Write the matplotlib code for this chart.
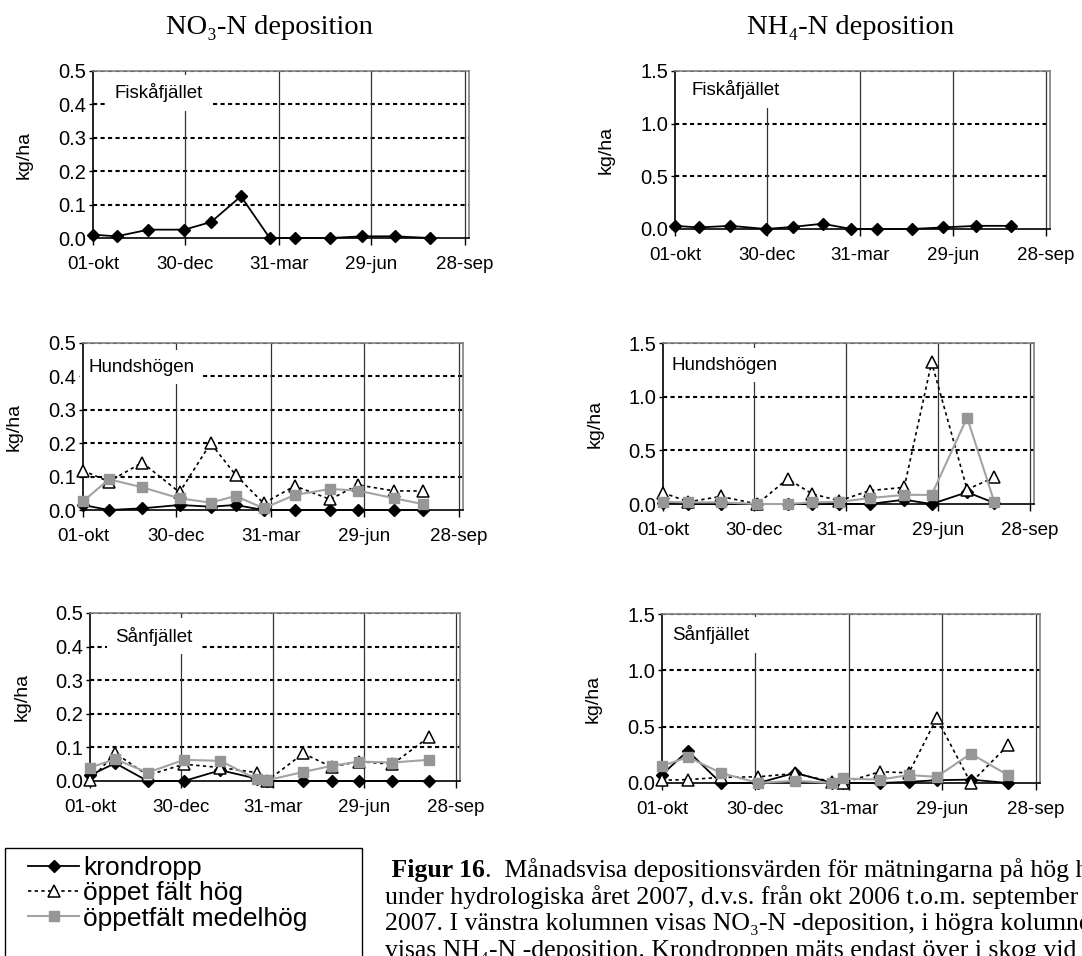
import numpy as np
import matplotlib
matplotlib.use('Agg')
import matplotlib.pyplot as plt
from matplotlib.patches import Rectangle

plt.rcParams['font.family'] = ['Liberation Sans', 'DejaVu Sans']

# x-axeln: dagar från 1 okt 2006
tick_days = [0, 90, 181, 271, 362]
tick_labels = ['01-okt', '30-dec', '31-mar', '29-jun', '28-sep']

# provtagningsdatum (dagar efter 01-okt) per station
days_fiska = [0, 23, 54, 89, 115, 144, 172, 197, 231, 262, 294, 328]
days_hunds = [0, 25, 57, 93, 123, 147, 174, 204, 238, 265, 300, 327]
days_sanf = [0, 25, 57, 93, 129, 165, 175, 211, 239, 266, 299, 335]

# NO3-N (kg/ha)
no3_fiska_kron = [0.01, 0.005, 0.025, 0.025, 0.048, 0.125, 0.0, 0.0, 0.0, 0.005, 0.005, 0.0]
no3_hunds_kron = [0.015, 0.0, 0.005, 0.015, 0.01, 0.015, 0.0, 0.0, 0.0, 0.0, 0.0, 0.0]
no3_hunds_hog = [0.118, 0.085, 0.142, 0.053, 0.2, 0.105, 0.02, 0.072, 0.032, 0.075, 0.057, 0.057]
no3_hunds_medel = [0.026, 0.092, 0.068, 0.035, 0.022, 0.042, 0.005, 0.045, 0.063, 0.058, 0.035, 0.018]
no3_sanf_kron = [0.017, 0.053, 0.0, 0.0, 0.032, 0.007, 0.0, 0.0, 0.0, 0.0, 0.0, 0.0]
no3_sanf_hog = [0.002, 0.083, 0.017, 0.05, 0.04, 0.025, 0.0, 0.082, 0.042, 0.058, 0.05, 0.13]
no3_sanf_medel = [0.04, 0.065, 0.025, 0.063, 0.06, 0.005, 0.002, 0.027, 0.045, 0.058, 0.055, 0.063]

# NH4-N (kg/ha)
nh4_fiska_kron = [0.03, 0.015, 0.03, 0.0, 0.02, 0.05, 0.0, 0.0, 0.0, 0.015, 0.03, 0.03]
nh4_hunds_kron = [0.01, 0.0, 0.0, 0.0, 0.0, 0.0, 0.0, 0.0, 0.04, 0.0, 0.11, 0.01]
nh4_hunds_hog = [0.105, 0.02, 0.07, 0.0, 0.235, 0.095, 0.03, 0.125, 0.155, 1.32, 0.135, 0.25]
nh4_hunds_medel = [0.02, 0.015, 0.015, 0.0, 0.0, 0.015, 0.02, 0.055, 0.085, 0.085, 0.805, 0.015]
nh4_sanf_kron = [0.075, 0.285, 0.0, 0.0, 0.09, 0.0, 0.0, 0.0, 0.01, 0.025, 0.03, 0.0]
nh4_sanf_hog = [0.025, 0.03, 0.05, 0.055, 0.085, 0.01, 0.0, 0.1, 0.09, 0.575, 0.0, 0.335]
nh4_sanf_medel = [0.15, 0.23, 0.09, 0.0, 0.02, 0.0, 0.04, 0.03, 0.07, 0.055, 0.26, 0.07]

series_names = ['krondropp', 'öppet fält hög', 'öppetfält medelhög']

W, H = 1082, 956
fig = plt.figure(figsize=(W / 100, H / 100), dpi=100)


def add_panel(box, days, kron, hog, medel, ymax, ystep, station, txt_pos):
    l, t, r, b = box
    ax = fig.add_axes([l / W, 1 - b / H, (r - l) / W, (b - t) / H])
    ax.set_xlim(0, 366)
    ax.set_ylim(0, ymax)
    yt = np.arange(0, ymax + ystep / 2, ystep)
    for y in yt[1:]:
        ax.axhline(y, color='black', lw=1.5, ls=(0, (2, 1.6)), zorder=1)
    for d in tick_days[1:]:
        ax.axvline(d, color='#333333', lw=0.9, zorder=1)

    ax.plot(days, kron, color='black', lw=1.3, marker='D', ms=6,
            clip_on=False, zorder=4, label=series_names[0])
    if hog is not None:
        ax.plot(days, hog, color='black', lw=1.2, ls=(0, (2, 2)), marker='^', ms=8,
                mfc='white', mec='black', mew=1.1, clip_on=False, zorder=5,
                label=series_names[1])
        ax.plot(days, medel, color='#a3a3a3', lw=1.5, marker='s', ms=7,
                mfc='#969696', mec='#969696', clip_on=False, zorder=6,
                label=series_names[2])

    ax.set_yticks(yt)
    ax.set_yticklabels([f'{v:.1f}' for v in yt])
    ax.set_xticks(tick_days)
    ax.set_xticklabels(tick_labels)
    ax.tick_params(axis='x', direction='out', length=5, width=1, pad=8, labelsize=13.5)
    ax.tick_params(axis='y', direction='out', length=3, width=1, pad=2, labelsize=14.5)
    for s in ['left', 'bottom']:
        ax.spines[s].set_color('black')
        ax.spines[s].set_linewidth(1.2)
    for s in ['top', 'right']:
        ax.spines[s].set_color('#808080')
        ax.spines[s].set_linewidth(1.2)

    ax.set_ylabel('kg/ha', fontsize=14)
    ax.yaxis.set_label_coords(-0.16, 0.5)
    ax.text(txt_pos[0], txt_pos[1], station, transform=ax.transAxes, fontsize=13.5,
            ha='left', va='center', zorder=2.2,
            bbox=dict(boxstyle='square,pad=0.45', fc='white', ec='none'))
    return ax


add_panel((93, 71, 469, 238), days_fiska, no3_fiska_kron, None, None,
          0.5, 0.1, 'Fiskåfjället', (0.058, 0.87))
add_panel((675, 71, 1050, 229), days_fiska, nh4_fiska_kron, None, None,
          1.5, 0.5, 'Fiskåfjället', (0.045, 0.88))
ax_leg = add_panel((83, 343, 463, 510), days_hunds, no3_hunds_kron, no3_hunds_hog,
                   no3_hunds_medel, 0.5, 0.1, 'Hundshögen', (0.015, 0.856))
add_panel((663, 343, 1034, 504), days_hunds, nh4_hunds_kron, nh4_hunds_hog,
          nh4_hunds_medel, 1.5, 0.5, 'Hundshögen', (0.024, 0.863))
add_panel((90, 613, 460, 781), days_sanf, no3_sanf_kron, no3_sanf_hog,
          no3_sanf_medel, 0.5, 0.1, 'Sånfjället', (0.068, 0.863))
add_panel((662, 614, 1040, 783), days_sanf, nh4_sanf_kron, nh4_sanf_hog,
          nh4_sanf_medel, 1.5, 0.5, 'Sånfjället', (0.026, 0.876))

# kolumnrubriker
serif = ['Liberation Serif', 'DejaVu Serif']
fig.text(269 / W, 1 - 27 / H, 'NO₃-N deposition', family=serif, fontsize=20.5,
         ha='center', va='center')
fig.text(851 / W, 1 - 27 / H, 'NH₄-N deposition', family=serif, fontsize=20.5,
         ha='center', va='center')

# teckenförklaring
fig.patches.append(Rectangle((5 / W, -0.02), 357 / W, 1 - 848 / H + 0.02,
                             transform=fig.transFigure, fill=False,
                             ec='black', lw=1.0))
handles, labels = ax_leg.get_legend_handles_labels()
fig.legend(handles, labels, loc='upper left', bbox_to_anchor=(28 / W, 1 - 856 / H),
           frameon=False, fontsize=19, handlelength=1.95, handletextpad=0.15,
           labelspacing=0.05, borderpad=0, borderaxespad=0)

# figurtext
renderer = fig.canvas.get_renderer()
cap_x = 385 / W
cap_y = [870, 897, 924, 951]
cap_fs = 18.5
t0 = fig.text(cap_x, 1 - cap_y[0] / H, ' Figur 16', family=serif, fontsize=cap_fs,
              weight='bold', ha='left', va='center')
bb = t0.get_window_extent(renderer)
fig.text(bb.x1 / W, 1 - cap_y[0] / H,
         '.  Månadsvisa depositionsvärden för mätningarna på hög höjd',
         family=serif, fontsize=cap_fs, ha='left', va='center')
cap_lines = ['under hydrologiska året 2007, d.v.s. från okt 2006 t.o.m. september',
             '2007. I vänstra kolumnen visas NO₃-N -deposition, i högra kolumnen',
             'visas NH₄-N -deposition. Krondroppen mäts endast över i skog vid']
for yy, line in zip(cap_y[1:], cap_lines):
    fig.text(cap_x, 1 - yy / H, line, family=serif, fontsize=cap_fs,
             ha='left', va='center')

fig.savefig('out.png', dpi=100)
